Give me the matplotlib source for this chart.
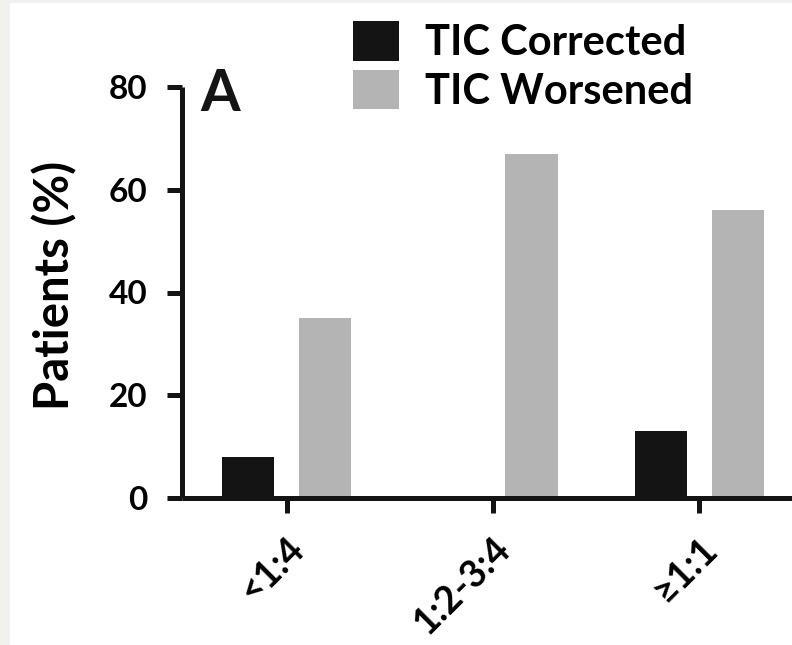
import matplotlib
matplotlib.use("Agg")
import matplotlib.pyplot as plt
import numpy as np
from matplotlib.patches import Rectangle

# ---- data -----------------------------------------------------------
categories = ["<1:4", "1:2-3:4", "\u22651:1"]
tic_corrected = [8, 0, 13]
tic_worsened = [35, 67, 56]
series_labels = ["TIC Corrected", "TIC Worsened"]
y_ticks = [0, 20, 40, 60, 80]

# ---- style ----------------------------------------------------------
plt.rcParams["font.family"] = ["Lato", "DejaVu Sans"]
plt.rcParams["font.weight"] = "bold"

DARK = "#141414"
LIGHT = "#b4b4b4"
LW = 3.6

W, H = 792, 645
fig = plt.figure(figsize=(W / 100, H / 100), dpi=100)
fig.patch.set_facecolor("#f1f1ed")
fig.patches.append(Rectangle((10 / W, 0), 1, 1 - 3 / H, transform=fig.transFigure,
                             facecolor="white", edgecolor="none", zorder=-1))

# axes: left spine at x=182px, y=0 at 498px, y=80 at 87px
ax = fig.add_axes([182 / W, (H - 498) / H, (W - 182) / W, 411 / H])
ax.set_facecolor("none")

x = np.arange(len(categories))
bw = 0.254
off = 0.187
ax.bar(x - off, tic_corrected, bw, color=DARK, label=series_labels[0])
ax.bar(x + off, tic_worsened, bw, color=LIGHT, label=series_labels[1])

# one category = ~206 px
ax.set_xlim(-0.5075, -0.5075 + (W - 182) / 206.3)
ax.set_ylim(0, 80)
ax.set_yticks(y_ticks)
ax.set_xticks(x)
ax.set_xticklabels(categories, rotation=45, ha="right", va="top",
                   rotation_mode="anchor")

for s in ("top", "right"):
    ax.spines[s].set_visible(False)
for s in ("left", "bottom"):
    ax.spines[s].set_linewidth(LW)
    ax.spines[s].set_color(DARK)
    ax.spines[s].set_capstyle("butt")

ax.tick_params(axis="y", length=11, width=LW, color=DARK, pad=14, labelsize=24)
ax.tick_params(axis="x", length=11, width=LW, color=DARK, pad=13, labelsize=27)

ax.set_ylabel("Patients (%)", fontsize=34, fontweight="bold", va="center")
ax.yaxis.set_label_coords(-0.209, 0.518)

ax.text(0.03, 0.942, "A", transform=ax.transAxes, fontsize=41,
        fontweight="bold", va="baseline", ha="left", color=DARK)

leg = ax.legend(loc="upper left", bbox_to_anchor=(353 / W, 1 - 21 / H),
                bbox_transform=fig.transFigure, frameon=False, fontsize=30,
                handlelength=1.1, handleheight=1.09, handletextpad=0.62,
                labelspacing=0.18, borderpad=0, borderaxespad=0)
for t in leg.get_texts():
    t.set_fontweight("bold")

fig.savefig("out.png", dpi=100, facecolor=fig.get_facecolor())
